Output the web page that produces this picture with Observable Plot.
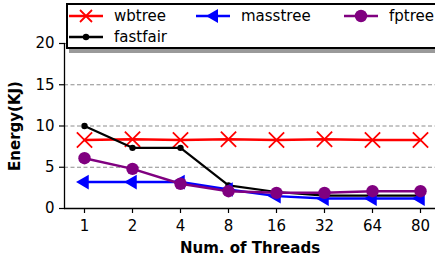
<!DOCTYPE html>
<html>
<head>
<meta charset="utf-8">
<script src="https://cdn.jsdelivr.net/npm/d3@7"></script>
<script src="https://cdn.jsdelivr.net/npm/@observablehq/plot@0.6"></script>
<style>
  body { margin: 0; background: #fff; font-family: "DejaVu Sans", sans-serif; }
  #wrap { position: relative; width: 435px; height: 265px; overflow: hidden; }
  #legend { position: absolute; left: 66px; top: 3px; width: 400px; height: 42px;
            border: 2px solid #000; background: #fff; box-shadow: 3px 4px 0 #9a9a9a; }
  .item { position: absolute; height: 20px; display: flex; align-items: center; font-size: 15px; color: #000; }
  .item svg { margin-right: 11px; }
</style>
</head>
<body>
<div id="wrap"></div>
<script>
const threads = ["1", "2", "4", "8", "16", "32", "64", "80"];
const seriesNames = ["wbtree", "fastfair", "masstree", "fptree"];
const wbtree   = [8.3, 8.4, 8.3, 8.4, 8.3, 8.4, 8.3, 8.3];
const fastfair = [10.0, 7.35, 7.35, 2.8, 2.0, 1.55, 1.55, 1.55];
const masstree = [3.2, 3.2, 3.2, 2.3, 1.5, 1.2, 1.2, 1.2];
const fptree   = [6.1, 4.8, 3.0, 2.1, 1.9, 1.9, 2.1, 2.1];
const yTicks = [0, 5, 10, 15, 20];
const gridTicks = [5, 10, 15, 20];

const values = {wbtree, fastfair, masstree, fptree};
const colors = {wbtree: "red", fastfair: "black", masstree: "blue", fptree: "purple"};
const rows = seriesNames.flatMap(s => threads.map((t, i) => ({series: s, threads: t, value: values[s][i]})));
const of = s => rows.filter(d => d.series === s);

const chart = Plot.plot({
  width: 435, height: 265,
  marginLeft: 64, marginRight: 0, marginTop: 43, marginBottom: 57,
  style: {fontFamily: "DejaVu Sans, sans-serif", background: "white", fontSize: "15px", color: "black"},
  x: {type: "point", domain: threads, range: [81, 422], padding: 0},
  y: {domain: [0, 20]},
  marks: [
    Plot.ruleY(gridTicks, {stroke: "#8c8c8c", strokeWidth: 1, strokeDasharray: "4,2.5"}),
    Plot.axisY({ticks: yTicks, tickSize: 5, tickPadding: 5, fontSize: 15, label: null, tickFormat: d => d, stroke: "black", strokeWidth: 1.2}),
    Plot.axisX({tickSize: 5, tickPadding: 7, fontSize: 15, label: null, stroke: "black", strokeWidth: 1.2}),
    Plot.frame({anchor: "left", stroke: "black", strokeWidth: 1.3}),
    Plot.ruleY([0], {stroke: "black", strokeWidth: 1.3}),
    // wbtree
    Plot.line(of("wbtree"), {x: "threads", y: "value", stroke: colors.wbtree, strokeWidth: 2.5}),
    Plot.dot(of("wbtree"), {x: "threads", y: "value", symbol: "times", stroke: colors.wbtree, strokeWidth: 1.8, r: 7}),
    // fastfair
    Plot.line(of("fastfair"), {x: "threads", y: "value", stroke: colors.fastfair, strokeWidth: 2.2}),
    Plot.dot(of("fastfair"), {x: "threads", y: "value", fill: colors.fastfair, r: 3.2}),
    // masstree
    Plot.line(of("masstree"), {x: "threads", y: "value", stroke: colors.masstree, strokeWidth: 2.5}),
    Plot.dot(of("masstree"), {x: "threads", y: "value", symbol: "triangle2", rotate: -90, fill: colors.masstree, r: 7}),
    // fptree
    Plot.line(of("fptree"), {x: "threads", y: "value", stroke: colors.fptree, strokeWidth: 2.5}),
    Plot.dot(of("fptree"), {x: "threads", y: "value", fill: colors.fptree, r: 6.2}),
    Plot.text(["Num. of Threads"], {frameAnchor: "bottom", dy: 44, fontSize: 15, fontWeight: "bold", text: d => d}),
    Plot.text(["Energy(KJ)"], {frameAnchor: "left", dx: -49, rotate: -90, textAnchor: "middle", fontSize: 15, fontWeight: "bold", text: d => d})
  ]
});
const wrap = document.getElementById("wrap");
wrap.appendChild(chart);

// legend (matplotlib column-major, ncol=3)
const legend = document.createElement("div");
legend.id = "legend";
const colX = [1, 128, 276];
const rowY = [1, 22];
const markerSvg = s => {
  const c = colors[s];
  let m = "";
  if (s === "wbtree") m = `<path d="M11,1 L23,13 M23,1 L11,13" stroke="${c}" stroke-width="1.8"/>`;
  else if (s === "fastfair") m = `<circle cx="17" cy="7" r="3.2" fill="${c}"/>`;
  else if (s === "masstree") m = `<path d="M10,7 L22,0 L22,14 Z" fill="${c}"/>`;
  else m = `<circle cx="17" cy="7" r="6.2" fill="${c}"/>`;
  return `<svg width="34" height="14"><line x1="0" y1="7" x2="34" y2="7" stroke="${c}" stroke-width="2.5"/>${m}</svg>`;
};
seriesNames.forEach((s, i) => {
  const col = i < 2 ? 0 : i - 1;
  const row = i < 2 ? i : 0;
  const it = document.createElement("div");
  it.className = "item";
  it.style.left = colX[col] + "px";
  it.style.top = rowY[row] + "px";
  it.innerHTML = markerSvg(s) + `<span>${s}</span>`;
  legend.appendChild(it);
});
wrap.appendChild(legend);
</script>
</body>
</html>
